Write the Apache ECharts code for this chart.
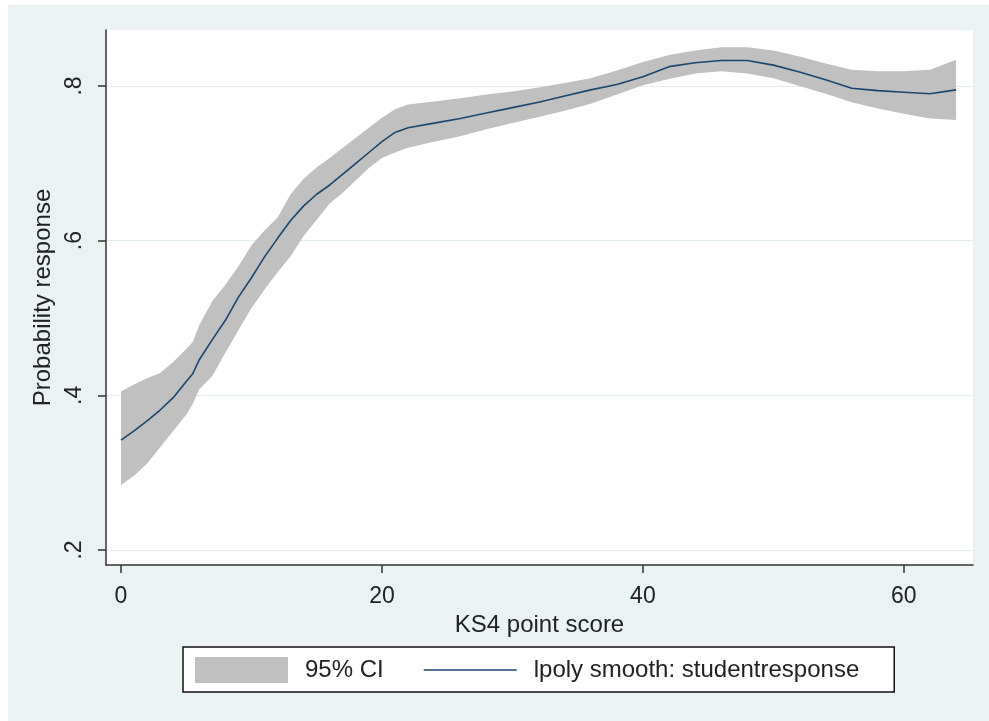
<!DOCTYPE html>
<html>
<head>
<meta charset="utf-8">
<script src="https://cdn.jsdelivr.net/npm/echarts@6/dist/echarts.min.js"></script>
<style>
html,body{margin:0;padding:0;background:#fff;width:989px;height:721px;overflow:hidden;}
#chart{position:absolute;left:8px;top:5px;width:981px;height:716px;}
</style>
</head>
<body>
<div id="chart"></div>
<script>
// KS4 point score grid
const xScore = [0,1,2,3,4,5,5.5,6,7,8,9,10,11,12,13,14,15,16,17,18,19,20,21,22,24,26,28,30,32,34,36,38,40,42,44,46,48,50,52,54,56,58,60,62,64];
// lpoly smooth: studentresponse
const smooth = [0.342,0.354,0.367,0.381,0.397,0.418,0.428,0.446,0.472,0.497,0.527,0.552,0.579,0.603,0.626,0.645,0.660,0.672,0.686,0.700,0.714,0.728,0.740,0.746,0.752,0.758,0.765,0.772,0.779,0.787,0.795,0.802,0.812,0.825,0.830,0.833,0.833,0.827,0.818,0.808,0.797,0.794,0.792,0.790,0.795];
// 95% CI upper and lower bounds
const ciUpper = [0.405,0.414,0.422,0.429,0.443,0.460,0.469,0.491,0.522,0.543,0.567,0.594,0.613,0.630,0.660,0.680,0.695,0.707,0.720,0.733,0.746,0.759,0.770,0.776,0.780,0.784,0.789,0.793,0.798,0.804,0.810,0.820,0.831,0.840,0.846,0.850,0.850,0.846,0.838,0.829,0.821,0.819,0.819,0.821,0.834];
const ciLower = [0.284,0.296,0.312,0.333,0.354,0.375,0.389,0.408,0.425,0.455,0.484,0.513,0.537,0.559,0.580,0.606,0.627,0.648,0.662,0.678,0.694,0.707,0.714,0.720,0.728,0.735,0.744,0.752,0.760,0.768,0.777,0.789,0.801,0.809,0.816,0.819,0.816,0.810,0.800,0.790,0.779,0.771,0.764,0.758,0.756];
const xTicks = [0,20,40,60];
const yTicks = [0.2,0.4,0.6,0.8];
const yTickLabels = ['.2','.4','.6','.8'];

const FONT = 'Liberation Sans, Arial, sans-serif';
const TXT = '#222';

const bandData = xScore.map((x,i)=>[x, ciLower[i], ciUpper[i]]);
const lineData = xScore.map((x,i)=>[x, smooth[i]]);

function renderBand(params, api){
  if (params.dataIndex !== 0) return null;
  const pts = [];
  for (let i = 0; i < xScore.length; i++) pts.push(api.coord([xScore[i], ciUpper[i]]));
  for (let i = xScore.length - 1; i >= 0; i--) pts.push(api.coord([xScore[i], ciLower[i]]));
  return {type:'polygon', shape:{points:pts}, style:{fill:'#c0c0c0', stroke:null}, silent:true};
}

const chart = echarts.init(document.getElementById('chart'), null, {renderer:'canvas'});
chart.setOption({
  animation:false,
  backgroundColor:'#eaf2f3',
  textStyle:{fontFamily:FONT},
  grid:{left:98, top:25, right:16, bottom:156, show:true, backgroundColor:'#fff', borderWidth:0},
  xAxis:{
    type:'value', min:-1.15, max:65.3,
    name:'KS4 point score', nameLocation:'middle', nameGap:42,
    nameTextStyle:{fontSize:24, color:TXT, fontFamily:FONT},
    axisLine:{show:true, onZero:false, lineStyle:{color:'#333', width:1.5}},
    axisTick:{show:true, length:8, customValues:xTicks, lineStyle:{color:'#333', width:1.5}},
    axisLabel:{customValues:xTicks, fontSize:23, color:TXT, margin:20, fontFamily:FONT},
    splitLine:{show:false}
  },
  yAxis:{
    type:'value', min:0.1806, max:0.8724,
    name:'Probability response', nameLocation:'middle', nameGap:45, nameRotate:90,
    nameTextStyle:{fontSize:24, color:TXT, fontFamily:FONT},
    axisLine:{show:true, onZero:false, lineStyle:{color:'#333', width:1.5}},
    axisTick:{show:true, length:8, customValues:yTicks, lineStyle:{color:'#333', width:1.5}},
    axisLabel:{customValues:yTicks, rotate:90, fontSize:23, color:TXT, margin:20, fontFamily:FONT,
      formatter:function(v){const i=yTicks.findIndex(t=>Math.abs(t-v)<1e-6);return i>=0?yTickLabels[i]:'';}},
    splitLine:{show:false}
  },
  legend:{
    left:175, top:642, orient:'horizontal',
    padding:[10,35,9,12], itemWidth:93, itemHeight:26, itemGap:40,
    borderColor:'#111', borderWidth:1.5, backgroundColor:'#fff', borderRadius:0,
    textStyle:{fontSize:24, color:TXT, fontFamily:FONT, padding:[0,0,0,12]},
    data:[
      {name:'95% CI', icon:'rect', itemStyle:{color:'#c0c0c0', borderWidth:0}},
      {name:'lpoly smooth: studentresponse', icon:'path://M0,0H93V1.6H0Z', itemStyle:{color:'#1a476f', borderWidth:0}}
    ]
  },
  series:[
    {
      name:'gridlines', type:'line', data:[], symbol:'none', z:0, silent:true,
      markLine:{silent:true, symbol:'none', z:0, label:{show:false},
        lineStyle:{color:'#e3eef0', width:1.2, type:'solid'},
        data:yTicks.map(v=>({yAxis:v}))}
    },
    {
      name:'95% CI', type:'custom', data:bandData, z:2,
      encode:{x:0, y:[1,2]},
      itemStyle:{color:'#c0c0c0'},
      renderItem:renderBand
    },
    {
      name:'lpoly smooth: studentresponse', type:'line', data:lineData, symbol:'none', z:3,
      itemStyle:{color:'#1a476f'}, lineStyle:{color:'#1a476f', width:1.6}
    }
  ]
});
</script>
</body>
</html>
